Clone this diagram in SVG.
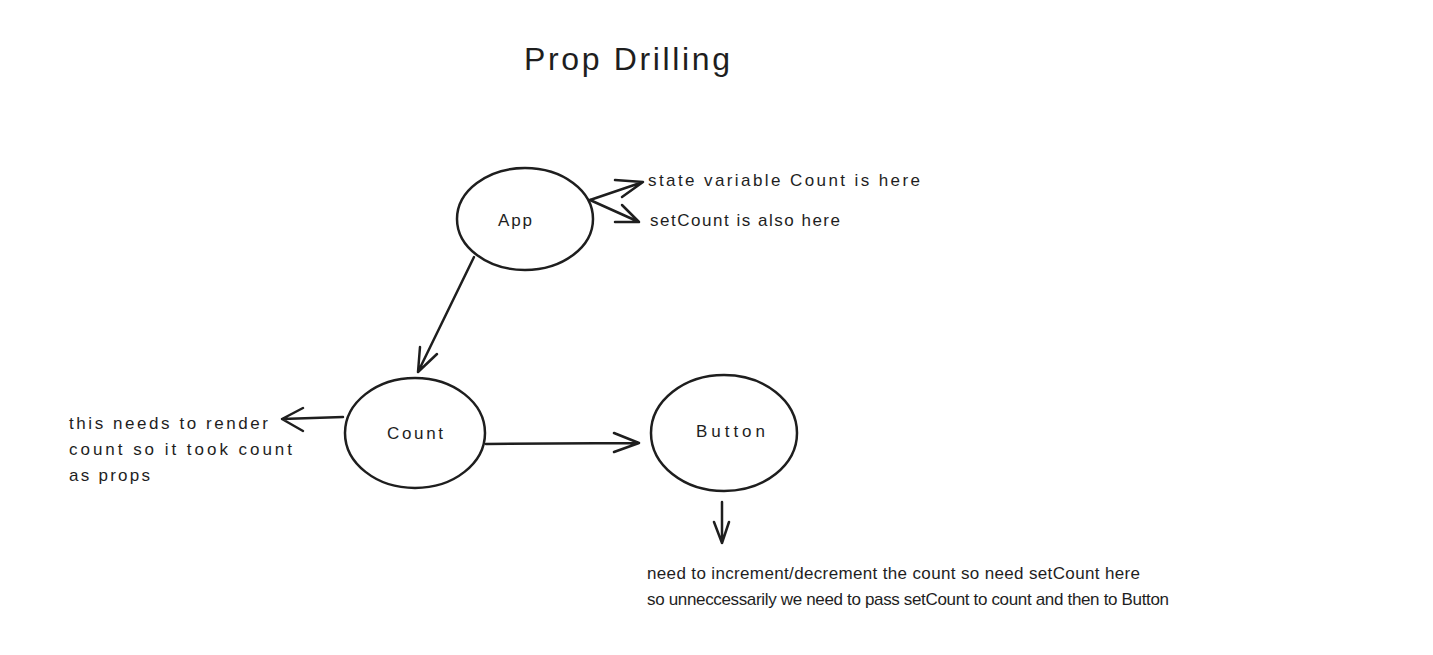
<svg xmlns="http://www.w3.org/2000/svg" width="1433" height="655" viewBox="0 0 1433 655">
<style>
.bg{fill:#ffffff}
.node{fill:none;stroke:#1e1e1e;stroke-width:2.5}
.edge{fill:none;stroke:#1e1e1e;stroke-width:2.5;stroke-linecap:round;stroke-linejoin:round}
text{font-family:"Liberation Sans","DejaVu Sans",sans-serif;fill:#1e1e1e}
.lbl{font-size:17px}
.title{font-size:32px}
</style>
<rect class="bg" x="0" y="0" width="1433" height="655"/>
<g id="title">
<text class="title" x="524" y="70" textLength="206">Prop Drilling</text>
</g>
<g id="node-app">
<ellipse class="node" cx="525" cy="219" rx="68" ry="51"/>
<text class="lbl" x="498" y="226" textLength="34">App</text>
</g>
<g id="node-count">
<ellipse class="node" cx="415" cy="433" rx="70" ry="55"/>
<text class="lbl" x="387" y="439" textLength="56">Count</text>
</g>
<g id="node-button">
<ellipse class="node" cx="724" cy="433" rx="73" ry="58"/>
<text class="lbl" x="696" y="437" textLength="69">Button</text>
</g>
<g id="connectors">
<path class="edge" d="M474 257 L418 372 M420 347 L418 372 L437 354"/>
<path class="edge" d="M590 200 L643 182 M615 180 L643 182 L622 197"/>
<path class="edge" d="M590 200 L639 222 M622 205 L639 222 L615 222"/>
<path class="edge" d="M343 417 L282 419 M303 408 L282 419 L303 431"/>
<path class="edge" d="M486 444 L639 443 M614 433 L639 443 L614 452"/>
<path class="edge" d="M722 502 L722 543 M714 522 L722 543 L729 522"/>
</g>
<g id="labels">
<text class="lbl" x="648" y="186" textLength="272">state variable Count is here</text>
<text class="lbl" x="650" y="226" textLength="190">setCount is also here</text>
<text class="lbl" x="69" y="429" textLength="199">this needs to render</text>
<text class="lbl" x="69" y="455" textLength="223">count so it took count</text>
<text class="lbl" x="69" y="481" textLength="81">as props</text>
<text class="lbl" x="647" y="579" textLength="493">need to increment/decrement the count so need setCount here</text>
<text class="lbl" x="647" y="605" textLength="522">so unneccessarily we need to pass setCount to count and then to Button</text>
</g>
</svg>
